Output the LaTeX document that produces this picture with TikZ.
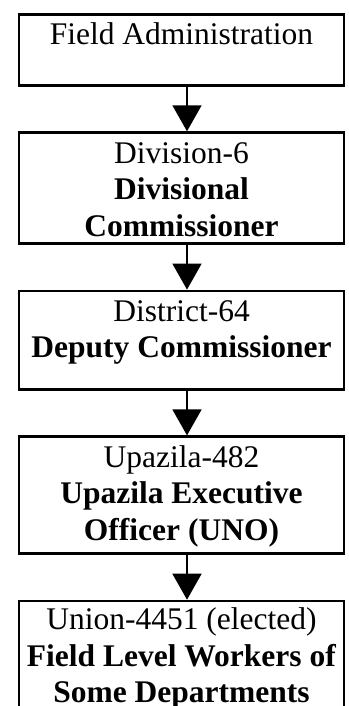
\documentclass[tikz,border=0pt]{standalone}
\usepackage{fontspec}
\setmainfont{Liberation Serif}
\usepackage{tikz}
\usetikzlibrary{arrows.meta}
\usetikzlibrary{positioning}

\tikzset{
	office/.style={draw, line width=1.35pt, minimum width=162.5pt,
		inner xsep=2pt, inner ysep=0pt, align=center,
		font=\fontsize{15.75}{18.25}\selectfont},
	downarrow/.style={line width=0.8pt, -{Triangle[length=13pt,width=14.5pt]}}
}

\begin{document}
\begin{tikzpicture}[node distance=22.3pt]
	
		\useasboundingbox (0,0) rectangle (174pt,-353pt);
		
		% text height runs down to the last baseline
		\node [office, text height=15.25pt, text depth=20.25pt, anchor=north] (field) at (90.75pt,-6.5pt) {Field Administration};
		\node [office, text height=51.75pt, text depth=3.75pt, below=of field] (division) {Division-6\\\textbf{Divisional}\\\textbf{Commissioner}};
		\node [office, text height=33.5pt, text depth=15.75pt, below=of division] (district) {District-64\\\textbf{Deputy Commissioner}};
		\node [office, text height=51.75pt, text depth=6.75pt, below=of district] (upazila) {Upazila-482\\\textbf{Upazila Executive}\\\textbf{Officer (UNO)}};
		\node [office, text height=50.75pt, text depth=14pt, below=of upazila] (union) {Union-4451 (elected)\\\textbf{Field Level Workers of}\\\textbf{Some Departments}};
		
		\draw [downarrow] ([xshift=2.75pt]field.south) -- ([xshift=2.75pt]division.north);
		\draw [downarrow] ([xshift=2.75pt]division.south) -- ([xshift=2.75pt]district.north);
		\draw [downarrow] ([xshift=2.75pt]district.south) -- ([xshift=2.75pt]upazila.north);
		\draw [downarrow] ([xshift=2.75pt]upazila.south) -- ([xshift=2.75pt]union.north);
	\end{tikzpicture}
\end{document}
